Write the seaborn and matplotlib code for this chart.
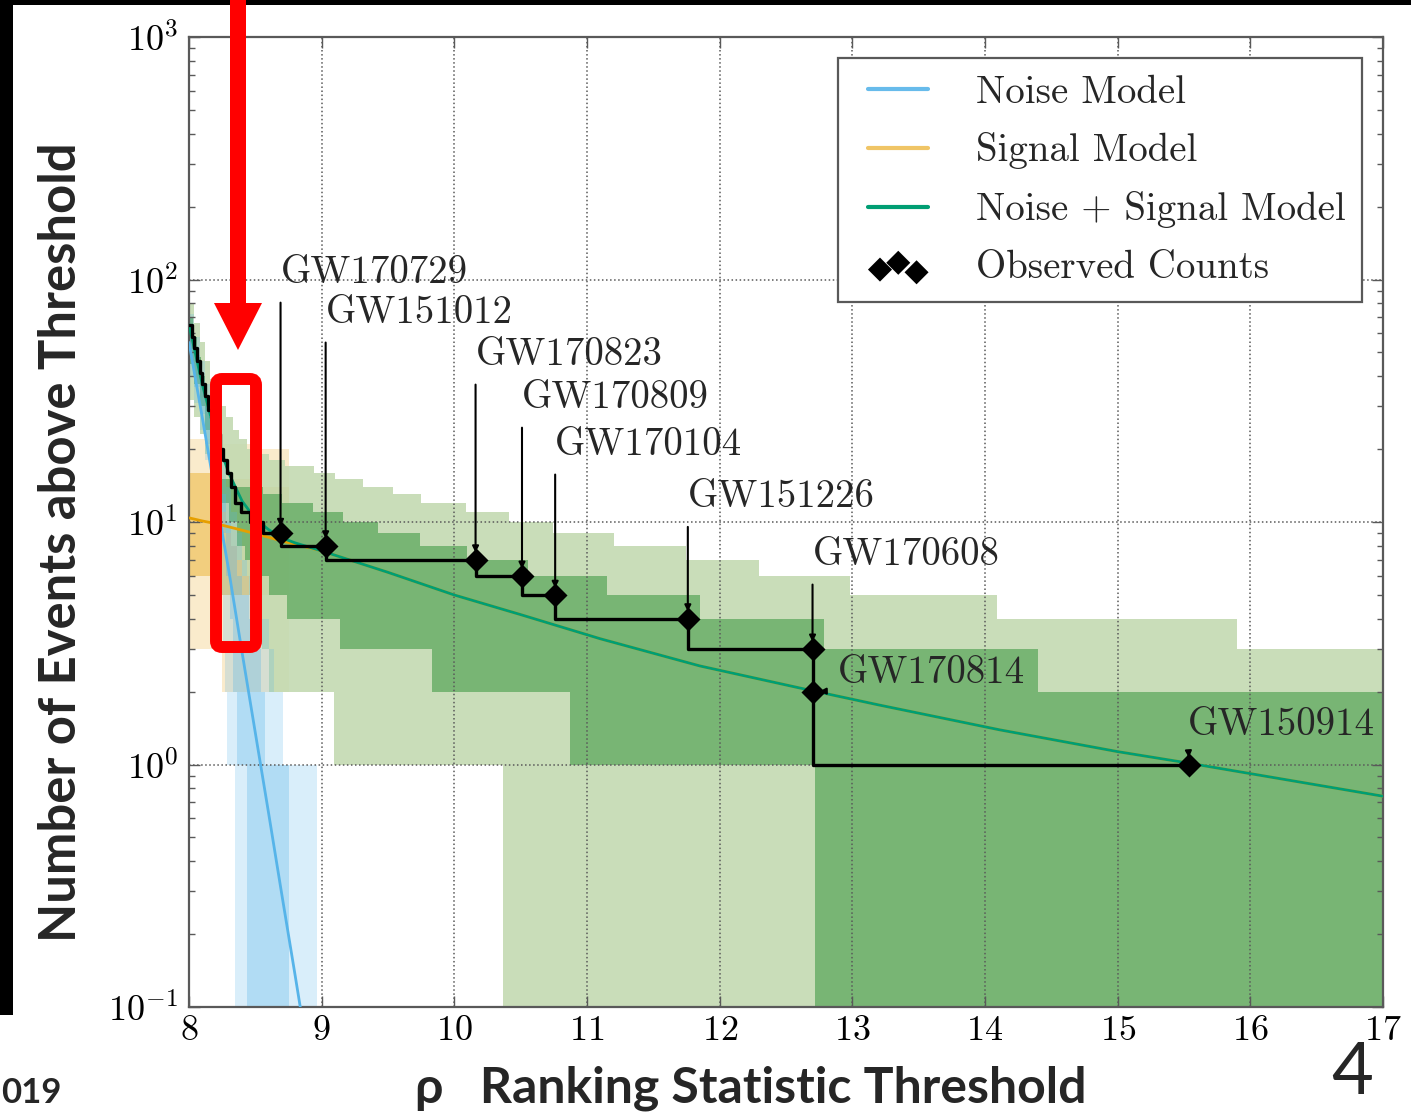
import numpy as np
import matplotlib
matplotlib.use("Agg")
import matplotlib.pyplot as plt
import matplotlib.transforms as mtransforms
from matplotlib.patches import Rectangle, FancyBboxPatch, Polygon
from matplotlib.lines import Line2D
from matplotlib.collections import PathCollection
from matplotlib.legend_handler import HandlerLine2D, HandlerPathCollection
import seaborn as sns

# ---------------- data ----------------
# observed cumulative counts above threshold (step function, value holds until next rho)
obs_rho = [8.00, 8.02, 8.04, 8.06, 8.08, 8.10, 8.12, 8.14, 8.17, 8.20, 8.23, 8.26,
           8.29, 8.32, 8.35, 8.39, 8.46, 8.56, 8.69, 9.03, 10.16, 10.51, 10.76,
           11.76, 12.70, 15.54]
obs_count = [65, 58, 52, 46, 41, 37, 33, 29, 26, 23, 20, 18,
             16, 14, 12, 11, 10, 9, 8, 7, 6, 5, 4,
             3, 1, 1]

# individual events
event_names = ["GW170729", "GW151012", "GW170823", "GW170809", "GW170104",
               "GW151226", "GW170608", "GW170814", "GW150914"]
event_rho = [8.69, 9.03, 10.16, 10.51, 10.76, 11.76, 12.70, 12.70, 15.54]
event_count = [9, 8, 7, 6, 5, 4, 3, 2, 1]

# expected counts from the models
noise_rho = [8.0, 8.1, 8.2, 8.3, 8.4, 8.5, 8.6, 8.7, 8.8, 8.9]
noise_mean = [55, 27, 13, 6.3, 2.9, 1.35, 0.63, 0.29, 0.135, 0.062]

model_rho = [8.0, 8.1, 8.2, 8.3, 8.4, 8.5, 8.6, 8.7, 8.8, 9.0, 9.5, 10.0, 10.5,
             11.1, 11.85, 12.6, 13.2, 13.74, 14.11, 15.0, 15.55, 17.0]
signal_mean = [10.4, 10.1, 9.85, 9.55, 9.25, 8.95, 8.65, 8.35, 8.1, 7.6, 6.2, 5.0,
               4.15, 3.3, 2.55, 2.07, 1.76, 1.53, 1.39, 1.13, 1.01, 0.74]
combined_mean = [65, 37, 22.9, 15.9, 12.2, 10.3, 9.3, 8.6, 8.2, 7.6, 6.2, 5.0,
                 4.15, 3.3, 2.55, 2.07, 1.76, 1.53, 1.39, 1.13, 1.01, 0.74]

# noise model intervals (2 sigma / 1 sigma), each bound as (rho breakpoints, counts)
noise_2s_hi_rho = [8.00, 8.04, 8.08, 8.12, 8.16, 8.20, 8.24, 8.28, 8.32, 8.36,
                   8.40, 8.44, 8.48, 8.53, 8.60, 8.64, 8.71, 8.965]
noise_2s_hi = [72, 58, 46, 37, 29, 23, 18, 14, 11, 9, 7, 6, 5, 4, 3, 2, 1, 0]
noise_2s_lo_rho = [8.00, 8.04, 8.08, 8.12, 8.16, 8.20, 8.23, 8.255, 8.275, 8.29, 8.35]
noise_2s_lo = [40, 31, 24, 18, 12, 8, 5, 3, 2, 1, 0]
noise_1s_hi_rho = [8.00, 8.04, 8.08, 8.12, 8.16, 8.20, 8.24, 8.28, 8.32, 8.36,
                   8.40, 8.45, 8.50, 8.54, 8.57, 8.75]
noise_1s_hi = [63, 49, 38, 30, 23, 17, 13, 10, 8, 6, 5, 4, 3, 2, 1, 0]
noise_1s_lo_rho = [8.00, 8.04, 8.08, 8.12, 8.16, 8.20, 8.24, 8.28, 8.31, 8.335, 8.36, 8.44]
noise_1s_lo = [47, 36, 28, 21, 16, 12, 9, 6, 4, 2, 1, 0]

# signal model intervals
signal_band_rho = [8.00, 8.25, 8.50, 8.75]
signal_2s_hi = [22, 21, 20, 20]
signal_2s_lo = [3, 2, 2, 2]
signal_1s_hi = [16, 15, 14, 14]
signal_1s_lo = [6, 5, 5, 5]

# noise + signal model intervals
comb_2s_hi_rho = [8.00, 8.04, 8.08, 8.12, 8.16, 8.20, 8.24, 8.28, 8.33, 8.38, 8.44,
                  8.52, 8.60, 8.72, 8.94, 9.10, 9.31, 9.54, 9.75, 10.09, 10.41,
                  10.74, 11.20, 11.75, 12.30, 12.98, 14.09, 15.90]
comb_2s_hi = [80, 66, 55, 46, 39, 34, 30, 27, 24, 22, 20,
              19, 18, 17, 16, 15, 14, 13, 12, 11, 10,
              9, 8, 7, 6, 5, 4, 3]
comb_2s_lo_rho = [8.00, 8.04, 8.08, 8.12, 8.16, 8.20, 8.24, 8.28, 8.32, 8.36, 8.40,
                  8.45, 8.50, 8.55, 8.60, 9.09, 10.37]
comb_2s_lo = [32, 27, 23, 19, 16, 13, 11, 9, 8, 7, 6, 5, 4, 3, 2, 1, 0]
comb_1s_hi_rho = [8.00, 8.03, 8.06, 8.09, 8.12, 8.15, 8.18, 8.21, 8.25, 8.33, 8.56,
                  8.70, 8.935, 9.16, 9.425, 9.74, 10.095, 10.555, 11.15, 11.85,
                  12.79, 14.40]
comb_1s_hi = [70, 58, 48, 40, 33, 27, 22, 18, 15, 14, 13,
              12, 11, 10, 9, 8, 7, 6, 5, 4, 3, 2]
comb_1s_lo_rho = [8.00, 8.04, 8.08, 8.12, 8.16, 8.20, 8.25, 8.30, 8.36, 8.42, 8.50,
                  8.60, 8.74, 9.14, 9.83, 10.87, 12.72]
comb_1s_lo = [45, 37, 30, 24, 19, 15, 12, 10, 8, 7, 6, 5, 4, 3, 2, 1, 0]

rho_min, rho_max = 8.0, 17.0

# ---------------- style ----------------
sns.set_style("ticks")
plt.rcParams.update({
    "font.family": "serif",
    "font.serif": ["cmr10"],
    "mathtext.fontset": "cm",
    "axes.formatter.use_mathtext": True,
    "axes.unicode_minus": False,
})

C_NOISE = "#56B4E9"
C_SIGNAL = "#E69F00"
C_COMB = "#009E73"

W, H = 1411, 1114
fig = plt.figure(figsize=(W / 100, H / 100), dpi=100)
fig.patch.set_facecolor("white")
ax = fig.add_axes([189 / W, 1 - 1007 / H, (1383 - 189) / W, (1007 - 37) / H])


def step_on(grid, rho, vals):
    idx = np.searchsorted(np.asarray(rho), grid, side="right") - 1
    return np.asarray(vals, float)[np.clip(idx, 0, None)]


def band(lo_rho, lo, hi_rho, hi, end, **kw):
    grid = np.union1d(np.union1d(lo_rho, hi_rho), [end])
    grid = grid[grid <= end]
    ax.fill_between(grid, step_on(grid, lo_rho, lo), step_on(grid, hi_rho, hi),
                    step="post", linewidth=0, **kw)


# signal model intervals
band(signal_band_rho, signal_2s_lo, signal_band_rho, signal_2s_hi, signal_band_rho[-1],
     color=C_SIGNAL, alpha=0.2, zorder=1)
band(signal_band_rho, signal_1s_lo, signal_band_rho, signal_1s_hi, signal_band_rho[-1],
     color=C_SIGNAL, alpha=0.38, zorder=1.05)

# noise + signal model intervals
band(comb_2s_lo_rho, comb_2s_lo, comb_2s_hi_rho, comb_2s_hi, rho_max,
     color="#c2d9b0", alpha=0.88, zorder=1.1)
band(comb_1s_lo_rho, comb_1s_lo, comb_1s_hi_rho, comb_1s_hi, rho_max,
     color="#6db06b", alpha=0.88, zorder=1.15)

# noise model intervals
band(noise_2s_lo_rho, noise_2s_lo, noise_2s_hi_rho, noise_2s_hi, rho_max,
     color=C_NOISE, alpha=0.22, zorder=1.2)
band(noise_1s_lo_rho, noise_1s_lo, noise_1s_hi_rho, noise_1s_hi, rho_max,
     color=C_NOISE, alpha=0.3, zorder=1.25)

# model curves
sns.lineplot(x=noise_rho, y=noise_mean, ax=ax, color=C_NOISE, lw=2, zorder=3)
sns.lineplot(x=model_rho, y=signal_mean, ax=ax, color=C_SIGNAL, lw=2, zorder=3)
sns.lineplot(x=model_rho, y=combined_mean, ax=ax, color=C_COMB, lw=2, zorder=3.1)

# observed counts
sns.lineplot(x=obs_rho, y=obs_count, ax=ax, color="k", lw=2.4, drawstyle="steps-post",
             zorder=5)
obs_pts = ax.scatter(event_rho, event_count, marker="D", s=150, color="k",
                     linewidths=0, zorder=6)

# event labels
label_rho = [8.69, 9.03, 10.16, 10.51, 10.76, 11.76, 12.70, 12.89, 15.53]
label_cnt = [96.7, 66.2, 44.4, 29.5, 18.9, 11.5, 6.65, 2.17, 1.32]
for name, x, y, lx, ly in zip(event_names, event_rho, event_count, label_rho, label_cnt):
    ax.annotate(name, xy=(x, y), xytext=(lx, ly), textcoords="data",
                ha="left", va="baseline", fontsize=28, zorder=7,
                arrowprops=dict(arrowstyle="-|>", color="k", lw=1.5, shrinkA=6,
                                shrinkB=5, mutation_scale=9, relpos=(0, 0)))

ax.set_yscale("log")
ax.set_xlim(rho_min, rho_max)
ax.set_ylim(0.1, 1000)
ax.set_xticks(range(8, 18))
ax.set_axisbelow(False)
ax.grid(True, which="major", ls=":", color="0.35", lw=1.1)
ax.tick_params(which="both", direction="in", top=True, right=True, colors="0.35",
               labelcolor="k", labelsize=26)
ax.tick_params(which="major", length=8, width=1)
ax.tick_params(which="minor", length=4, width=1)
ax.tick_params(axis="x", pad=6)
ax.tick_params(axis="y", pad=8)
for s in ax.spines.values():
    s.set_color("0.35")
    s.set_linewidth(1.6)
ax.set_xlabel("")
ax.set_ylabel("")

handles = [Line2D([], [], color=C_NOISE, lw=3, alpha=0.9),
           Line2D([], [], color=C_SIGNAL, lw=3, alpha=0.6),
           Line2D([], [], color=C_COMB, lw=3),
           obs_pts]
labels = ["Noise Model", "Signal Model", "Noise + Signal Model", "Observed Counts"]
leg = ax.legend(handles, labels, loc="upper right", fontsize=28, frameon=True,
                fancybox=False, framealpha=1, edgecolor="0.35", borderaxespad=0.55,
                handlelength=1.90, handletextpad=1.22, labelspacing=0.56,
                borderpad=0.42, scatterpoints=3,
                handler_map={Line2D: HandlerLine2D(xpad=0.36),
                             PathCollection: HandlerPathCollection(
                                 xpad=0.36, yoffsets=[0.3, 0.55, 0.2])})
leg.get_frame().set_linewidth(1.6)
leg.set_zorder(8)

# slide text
sans = ["Lato", "DejaVu Sans"]
fig.text(62 / W, 1 - 542 / H, "Number of Events above Threshold", rotation=90,
         ha="center", va="center", fontsize=36.5, fontweight="bold", family=sans)
fig.text(751 / W, 1 - 1088 / H, "ρ   Ranking Statistic Threshold",
         ha="center", va="center", fontsize=36, fontweight="bold", family=sans)
fig.text(1 / W, 1 - 1093 / H, "019", ha="left", va="center", fontsize=25,
         fontweight="bold", family=sans)
fig.text(1352 / W, 1 - 1074 / H, "4", ha="center", va="center", fontsize=52,
         fontweight="normal", family=sans)

# slide frame and highlight
px = mtransforms.IdentityTransform()
fig.add_artist(Rectangle((0, H - 5), W, 5, transform=px, color="k", lw=0, zorder=10))
fig.add_artist(Rectangle((0, H - 1015), 13, 1015, transform=px, color="k", lw=0, zorder=10))
arrow_xy = [(230, 0), (246, 0), (246, 303), (262, 303), (238, 350), (214, 303), (230, 303)]
fig.add_artist(Polygon([(x, H - y) for x, y in arrow_xy], closed=True, transform=px,
                       color="#ff0000", lw=0, zorder=10))
fig.add_artist(FancyBboxPatch((216, H - 647), 40, 268,
                              boxstyle="round,pad=0,rounding_size=6", transform=px,
                              fill=False, ec="#ff0000", lw=8.6, zorder=10))

fig.savefig("out.png", dpi=100)
